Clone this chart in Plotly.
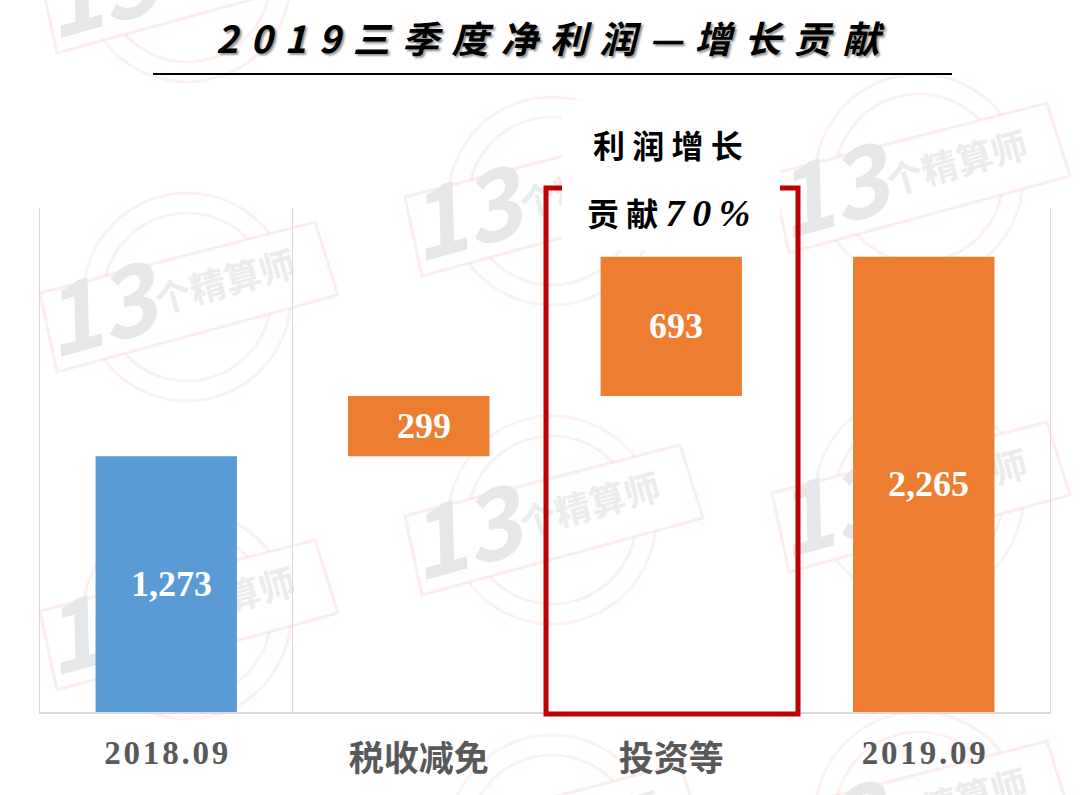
import pandas as pd
import plotly.graph_objects as go


class ChartPage:

    def __init__(self, df):
        self.df = df

        self.width = 1080
        self.height = 795
        self.left = 40
        self.right = 1050
        self.top = 208
        self.bottom = 712

        self.fig = go.Figure()

        self.render()

    def px(self, x):
        return (x - self.left) / (self.right - self.left)

    def py(self, y):
        return (self.bottom - y) / (self.bottom - self.top)

    def circle(self, cx, cy, r):
        return dict(
            type="circle", xref="paper", yref="paper", layer="below",
            x0=self.px(cx - r), x1=self.px(cx + r),
            y0=self.py(cy + r), y1=self.py(cy - r),
            line=dict(color="rgba(240,170,165,0.17)", width=3)
        )

    def label(self, cx, cy, text, size, color):
        return dict(
            type="rect", xref="paper", yref="paper", layer="below",
            x0=self.px(cx - 90), x1=self.px(cx + 90),
            y0=self.py(cy + 50), y1=self.py(cy - 50),
            line=dict(width=0), fillcolor="rgba(0,0,0,0)",
            label=dict(
                text=text, textangle=-15.6, textposition="middle center",
                font=dict(family="Noto Sans CJK SC", size=size, color=color)
            )
        )

    def stamp(self, cx, cy):
        corners = [(-147, -4), (128, -75), (151, -2), (-130, 75)]
        points = ["%.4f,%.4f" % (self.px(cx + a), self.py(cy + b)) for a, b in corners]
        outline = dict(
            type="path", xref="paper", yref="paper", layer="below",
            path="M " + " L ".join(points) + " Z",
            fillcolor="white",
            line=dict(color="rgba(240,170,165,0.20)", width=3)
        )

        return [
            self.circle(cx, cy, 104),
            self.circle(cx, cy, 84),
            outline,
            self.label(cx - 86, cy + 21, "<b><i>13</i></b>", 96, "#E6E7E8"),
            self.label(cx + 39, cy - 12, "<b>个精算师</b>", 36, "#EBECED"),
        ]

    def render(self):

        df = self.df

        shapes = []

        for cx, cy in [(187, -22), (187, 297), (187, 615),
                       (552, 201), (552, 520), (552, 839),
                       (919, 178), (919, 497), (919, 816)]:
            shapes += self.stamp(cx, cy)

        shapes.append(dict(
            type="rect", xref="paper", yref="paper", layer="below",
            x0=self.px(562), x1=self.px(780), y0=self.py(250), y1=self.py(100),
            fillcolor="white", line=dict(width=0)
        ))

        shapes.append(dict(
            type="line", xref="paper", yref="paper",
            x0=self.px(153), x1=self.px(952), y0=self.py(74), y1=self.py(74),
            line=dict(color="black", width=2)
        ))

        frame = [(562, 188), (546, 188), (546, 714), (798, 714), (798, 188), (780, 188)]
        shapes.append(dict(
            type="path", xref="paper", yref="paper",
            path="M " + " L ".join("%.4f,%.4f" % (self.px(a), self.py(b)) for a, b in frame),
            line=dict(color="#C00000", width=5)
        ))

        self.fig.add_trace(go.Bar(
            x=df["label"],
            y=df["value"],
            base=df["base"],
            width=0.56,
            marker=dict(color=df["color"], line=dict(width=0)),
            hoverinfo="skip"
        ))

        annotations = []

        for _, row in df.iterrows():
            annotations.append(dict(
                x=row["label"],
                y=row["base"] + row["value"] / 2,
                text="<b>{:,}</b>".format(row["value"]),
                xshift=5,
                showarrow=False,
                font=dict(family="Liberation Serif", size=36, color="white")
            ))

        title = "\u2004".join("2019三季度净利润—增长贡献")

        annotations.append(dict(
            xref="paper", yref="paper", x=self.px(550), y=self.py(37),
            xanchor="center", yanchor="middle",
            text="<b><i>" + title + "</i></b>",
            showarrow=False,
            font=dict(family="Noto Sans CJK SC", size=37, color="black", shadow="2px 2px 2px #999999")
        ))
        annotations.append(dict(
            xref="paper", yref="paper", x=self.px(668), y=self.py(144),
            xanchor="center", yanchor="middle",
            text="<b>利 润 增 长</b>",
            showarrow=False,
            font=dict(family="Noto Sans CJK SC", size=32, color="black")
        ))
        annotations.append(dict(
            xref="paper", yref="paper", x=self.px(668), y=self.py(212),
            xanchor="center", yanchor="middle",
            text="<b>贡 献 <i><span style=\"font-family:Liberation Serif;font-size:38px\">7\u20090\u2009%</span></i></b>",
            showarrow=False,
            font=dict(family="Noto Sans CJK SC", size=32, color="black")
        ))

        self.fig.update_layout(
            width=self.width,
            height=self.height,
            margin=dict(l=self.left, r=self.width - self.right, t=self.top, b=self.height - self.bottom),
            paper_bgcolor="white",
            plot_bgcolor="rgba(0,0,0,0)",
            showlegend=False,
            shapes=shapes,
            annotations=annotations,
            xaxis=dict(
                type="category",
                automargin=False,
                tickson="boundaries",
                ticks="",
                showgrid=True,
                gridcolor="#D9D9D9",
                gridwidth=1,
                showline=True,
                linecolor="#D9D9D9",
                linewidth=2,
                ticklabelstandoff=10,
                tickfont=dict(family="Liberation Serif, Noto Sans CJK SC", size=33, color="#595959"),
                range=[-0.5, 3.5]
            ),
            yaxis=dict(
                range=[0, 2508],
                automargin=False,
                showgrid=False,
                zeroline=False,
                showticklabels=False,
                ticks="",
                showline=True,
                mirror=True,
                linecolor="#D9D9D9",
                linewidth=1
            )
        )

        self.fig.write_html(
            "out.html",
            config={"displayModeBar": False},
            post_script="document.body.style.margin='0';"
        )


data = pd.DataFrame({
    "label": [
        "<b>2\u200a0\u200a1\u200a8\u200a.\u200a0\u200a9</b>",
        "<sub><b><span style=\"font-size:35px\">税收减免</span></b></sub>",
        "<sub><b><span style=\"font-size:35px\">投资等</span></b></sub>",
        "<b>2\u200a0\u200a1\u200a9\u200a.\u200a0\u200a9</b>",
    ],
    "base": [0, 1273, 1572, 0],
    "value": [1273, 299, 693, 2265],
    "color": ["#5B9BD5", "#ED7D31", "#ED7D31", "#ED7D31"],
})

ChartPage(data)
